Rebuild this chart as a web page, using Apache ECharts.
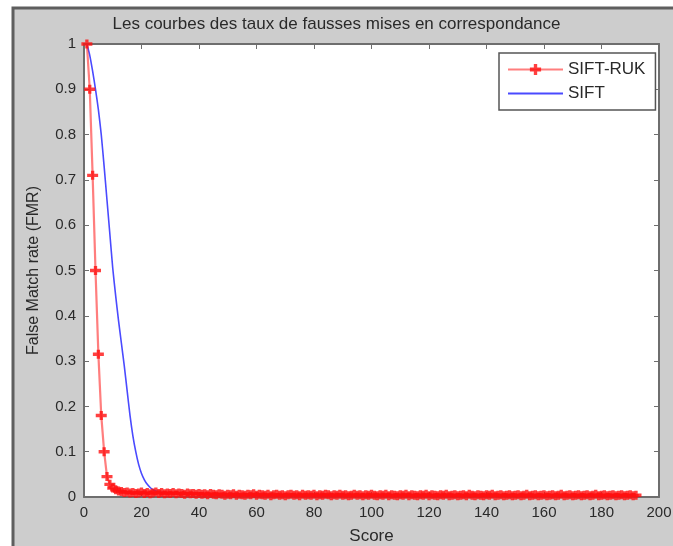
<!DOCTYPE html>
<html>
<head>
<meta charset="utf-8">
<script src="https://cdn.jsdelivr.net/npm/echarts@6/dist/echarts.min.js"></script>
<style>html,body{margin:0;padding:0;background:#fff;}#c{width:673px;height:546px;}</style>
</head>
<body>
<div id="c"></div>
<script>
const chartTitle = 'Les courbes des taux de fausses mises en correspondance';
const xAxisName = 'Score';
const yAxisName = 'False Match rate (FMR)';
const xTicks = [0, 20, 40, 60, 80, 100, 120, 140, 160, 180, 200];
const yTicks = [0, 0.1, 0.2, 0.3, 0.4, 0.5, 0.6, 0.7, 0.8, 0.9, 1];
const seriesNames = ['SIFT-RUK', 'SIFT'];

// SIFT-RUK : one value per score, scores 1..192
const rukFirstScore = 1;
const rukValues = [
  1.0, 0.90, 0.71, 0.50, 0.315, 0.18, 0.10, 0.045, 0.028, 0.020,
  0.016, 0.013, 0.012, 0.010, 0.011, 0.009, 0.010, 0.008, 0.009, 0.011,
  0.008, 0.010, 0.007, 0.009, 0.011, 0.008, 0.010, 0.007, 0.009, 0.008,
  0.010, 0.007, 0.009, 0.008, 0.006, 0.009, 0.007, 0.008, 0.006, 0.008,
  0.006, 0.007, 0.005, 0.008, 0.006, 0.005, 0.007, 0.006, 0.004, 0.006,
  0.005, 0.007, 0.004, 0.006, 0.005, 0.004, 0.006, 0.005, 0.007, 0.004,
  0.006, 0.005, 0.004, 0.006, 0.003, 0.005, 0.006, 0.004, 0.005, 0.003,
  0.005, 0.006, 0.004, 0.005, 0.003, 0.006, 0.004, 0.005, 0.004, 0.006,
  0.003, 0.005, 0.004, 0.006, 0.005, 0.003, 0.005, 0.004, 0.006, 0.004,
  0.005, 0.003, 0.004, 0.006, 0.004, 0.005, 0.003, 0.005, 0.004, 0.006,
  0.004, 0.003, 0.005, 0.004, 0.006, 0.003, 0.005, 0.004, 0.003, 0.005,
  0.004, 0.006, 0.003, 0.005, 0.004, 0.003, 0.005, 0.004, 0.006, 0.003,
  0.005, 0.004, 0.003, 0.005, 0.004, 0.006, 0.003, 0.004, 0.005, 0.003,
  0.004, 0.005, 0.003, 0.006, 0.004, 0.003, 0.005, 0.004, 0.003, 0.005,
  0.004, 0.006, 0.003, 0.004, 0.005, 0.003, 0.004, 0.005, 0.003, 0.004,
  0.005, 0.003, 0.004, 0.006, 0.003, 0.004, 0.005, 0.003, 0.004, 0.005,
  0.003, 0.004, 0.005, 0.003, 0.004, 0.006, 0.003, 0.004, 0.005, 0.003,
  0.004, 0.005, 0.003, 0.004, 0.005, 0.003, 0.004, 0.006, 0.003, 0.004,
  0.005, 0.003, 0.004, 0.005, 0.003, 0.004, 0.005, 0.003, 0.004, 0.005,
  0.003, 0.004
];

// SIFT : score / value pairs
const siftScores = [1, 2, 3, 4, 5, 6, 7, 8, 9, 10, 11, 12, 13, 14, 15, 16, 17, 18, 19, 20,
  21, 22, 23, 24, 25, 26, 27, 28, 30, 35, 40, 45, 50, 60, 70, 80, 90, 100, 107];
const siftValues = [1.0, 0.975, 0.94, 0.90, 0.855, 0.80, 0.73, 0.655, 0.58, 0.505,
  0.445, 0.39, 0.34, 0.29, 0.235, 0.18, 0.135, 0.10, 0.072, 0.052,
  0.038, 0.028, 0.021, 0.016, 0.013, 0.011, 0.010, 0.009, 0.008, 0.007,
  0.006, 0.005, 0.004, 0.003, 0.0025, 0.002, 0.0018, 0.0015, 0.0015];

const rukData = rukValues.map((v, i) => [rukFirstScore + i, v]);
const siftData = siftScores.map((s, i) => [s, siftValues[i]]);

const FONT = '"Liberation Sans", Arial, sans-serif';
const TXT = '#2a2a2a';
const AX = '#6e6e6e';
const plusPath = 'path://M-1.5,-4H1.5V-1.5H5V1.5H1.5V4H-1.5V1.5H-5V-1.5H-1.5Z';

const chart = echarts.init(document.getElementById('c'), null, {renderer: 'canvas'});
chart.setOption({
  animation: false,
  backgroundColor: '#ffffff',
  graphic: [{
    type: 'rect', z: -10, silent: true,
    shape: {x: 13, y: 8, width: 700, height: 600},
    style: {fill: '#cdcdcd', stroke: '#5e5e5e', lineWidth: 3}
  }],
  title: {
    text: chartTitle, left: 'center', top: 11,
    textStyle: {fontFamily: FONT, fontSize: 17, fontWeight: 'normal', color: TXT}
  },
  legend: {
    orient: 'vertical', left: 499, top: 53,
    backgroundColor: '#ffffff', borderColor: '#555', borderWidth: 1.5,
    padding: [8, 10, 8, 8], itemGap: 7, itemWidth: 55, itemHeight: 14,
    textStyle: {fontFamily: FONT, fontSize: 17, color: TXT},
    data: [{name: seriesNames[0]}, {name: seriesNames[1], itemStyle: {opacity: 0}}]
  },
  grid: {left: 84, top: 44, right: 14, bottom: 49, show: true, backgroundColor: '#ffffff', borderWidth: 0,
    outerBoundsMode: 'none', containLabel: false},
  xAxis: [{
    type: 'value', min: 0, max: 200, interval: 20,
    name: xAxisName, nameLocation: 'middle', nameGap: 31,
    nameTextStyle: {fontFamily: FONT, fontSize: 17, color: TXT},
    axisLine: {lineStyle: {color: AX, width: 2}},
    axisTick: {inside: true, length: 5, lineStyle: {color: AX}},
    axisLabel: {fontFamily: FONT, fontSize: 15, color: TXT, margin: 8,
      formatter: v => xTicks.includes(v) ? String(v) : ''},
    splitLine: {show: false}
  }, {
    type: 'value', min: 0, max: 200, interval: 20, position: 'top',
    axisLine: {onZero: false, lineStyle: {color: AX, width: 2}},
    axisTick: {inside: true, length: 5, lineStyle: {color: AX}},
    axisLabel: {show: false}, splitLine: {show: false}
  }],
  yAxis: [{
    type: 'value', min: 0, max: 1, interval: 0.1,
    name: yAxisName, nameLocation: 'middle', nameGap: 42,
    nameTextStyle: {fontFamily: FONT, fontSize: 16, color: TXT},
    axisLine: {show: true, lineStyle: {color: AX, width: 2}},
    axisTick: {show: true, inside: true, length: 5, lineStyle: {color: AX}},
    axisLabel: {fontFamily: FONT, fontSize: 15, color: TXT, margin: 8,
      formatter: v => { const t = yTicks.find(y => Math.abs(y - v) < 1e-9); return t === undefined ? '' : String(t); }},
    splitLine: {show: false}
  }, {
    type: 'value', min: 0, max: 1, interval: 0.1, position: 'right',
    axisLine: {show: true, onZero: false, lineStyle: {color: AX, width: 2}},
    axisTick: {show: true, inside: true, length: 5, lineStyle: {color: AX}},
    axisLabel: {show: false}, splitLine: {show: false}
  }],
  series: [{
    name: seriesNames[0], type: 'line', data: rukData,
    symbol: plusPath, symbolSize: [11, 9], showAllSymbol: true,
    lineStyle: {color: 'rgba(255,40,40,0.6)', width: 2.2},
    itemStyle: {color: '#ff1010', opacity: 0.8},
    z: 3
  }, {
    name: seriesNames[1], type: 'line', data: siftData,
    symbol: 'none', smooth: 0.2,
    lineStyle: {color: '#4a4aff', width: 1.6},
    itemStyle: {color: '#4a4aff'},
    z: 2
  }]
});
</script>
</body>
</html>
